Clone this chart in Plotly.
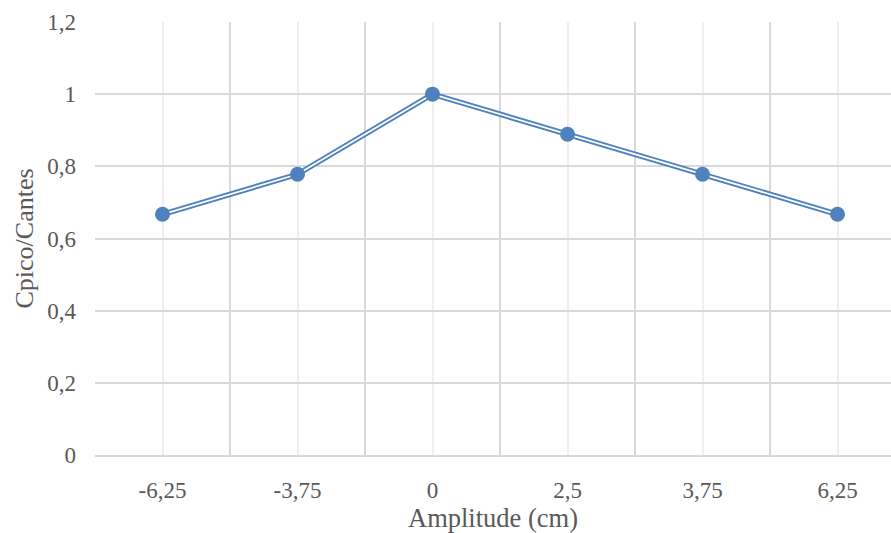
import plotly.graph_objects as go

categories = ["-6,25", "-3,75", "0", "2,5", "3,75", "6,25"]
values = [0.667, 0.778, 1.0, 0.889, 0.778, 0.667]
y_ticks = [0, 0.2, 0.4, 0.6, 0.8, 1.0, 1.2]

x_pos = list(range(len(categories)))
blue = "#4f81bd"
font_family = "Liberation Serif"

fig = go.Figure()
fig.add_trace(go.Scatter(x=x_pos, y=values, mode="lines",
                         line=dict(color=blue, width=5.5), hoverinfo="skip"))
fig.add_trace(go.Scatter(x=x_pos, y=values, mode="lines",
                         line=dict(color="white", width=1.8), hoverinfo="skip"))
fig.add_trace(go.Scatter(x=x_pos, y=values, mode="markers",
                         marker=dict(color=blue, size=15)))

boundaries = [i - 0.5 for i in range(len(categories) + 1)]

fig.update_layout(
    width=891, height=533,
    margin=dict(l=95, r=0, t=22, b=78),
    paper_bgcolor="white", plot_bgcolor="white",
    showlegend=False,
    separators=", ",
    font=dict(family=font_family, size=23, color="#595959"),
    xaxis=dict(
        range=[-0.5, -0.5 + 796 / 135],
        tickvals=x_pos, ticktext=categories,
        showgrid=True, gridcolor="#efefef", gridwidth=1.5,
        minor=dict(tickvals=boundaries, showgrid=True, gridcolor="#d9d9d9", gridwidth=1.5),
        showline=True, linecolor="#d9d9d9", linewidth=1.5,
        zeroline=False, ticks="", ticklabelstandoff=14,
        title=dict(text="Amplitude (cm)", standoff=10,
                   font=dict(family=font_family, size=26.5, color="#595959")),
    ),
    yaxis=dict(
        range=[0, 1.2],
        tickvals=y_ticks,
        showgrid=True, gridcolor="#d9d9d9", gridwidth=1.5,
        zeroline=False, showline=False, ticks="", ticklabelstandoff=18,
        title=dict(text="Cpico/Cantes", standoff=6,
                   font=dict(family=font_family, size=26, color="#595959")),
    ),
)

fig.write_html("out.html")
